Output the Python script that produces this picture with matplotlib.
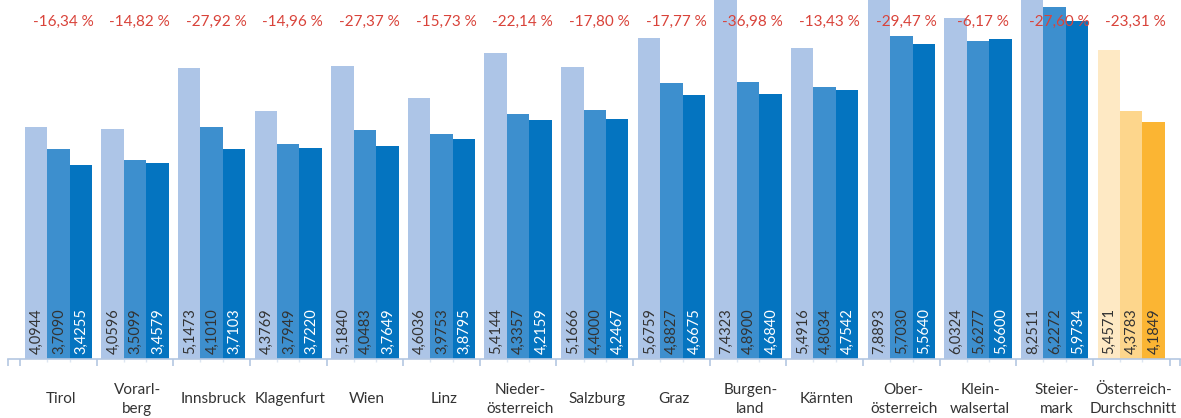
import numpy as np
import matplotlib
matplotlib.use("Agg")
import matplotlib.pyplot as plt
import matplotlib.transforms as mtransforms

plt.rcParams['font.family'] = ['Lato', 'DejaVu Sans']

categories = ["Tirol", "Vorarl-\nberg", "Innsbruck", "Klagenfurt", "Wien", "Linz",
              "Nieder-\nösterreich", "Salzburg", "Graz", "Burgen-\nland", "Kärnten",
              "Ober-\nösterreich", "Klein-\nwalsertal", "Steier-\nmark",
              "Österreich-\nDurchschnitt"]
vals_1 = [4.0944, 4.0596, 5.1473, 4.3769, 5.1840, 4.6036, 5.4144, 5.1666, 5.6759,
          7.4323, 5.4916, 7.8893, 6.0324, 8.2511, 5.4571]
vals_2 = [3.7090, 3.5099, 4.1010, 3.7949, 4.0483, 3.9753, 4.3357, 4.4000, 4.8827,
          4.8900, 4.8034, 5.7030, 5.6277, 6.2272, 4.3783]
vals_3 = [3.4255, 3.4579, 3.7103, 3.7220, 3.7649, 3.8795, 4.2159, 4.2467, 4.6675,
          4.6840, 4.7542, 5.5640, 5.6600, 5.9734, 4.1849]
pct = [-16.34, -14.82, -27.92, -14.96, -27.37, -15.73, -22.14, -17.80, -17.77,
       -36.98, -13.43, -29.47, -6.17, -27.60, -23.31]

blues = ["#adc5e7", "#3d8fce", "#0474c0"]
oranges = ["#fee9c4", "#fdd68c", "#fbb533"]
text_cols = ["#333333", "#333333", "#ffffff"]
axis_col = "#b4c7e2"


def fmt(v, nd):
    return ("{:.%df}" % nd).format(v).replace(".", ",")


fig = plt.figure(figsize=(11.81, 4.18), dpi=100)
ax = fig.add_axes([8 / 1181, 0.1423, 1172 / 1181, 0.8577])

n = len(categories)
x = np.arange(n)
w = 0.293
series = [vals_1, vals_2, vals_3]
for j, vals in enumerate(series):
    cols = [blues[j]] * (n - 1) + [oranges[j]]
    pos = x + (j - 1) * w
    ax.bar(pos, vals, width=w, color=cols, linewidth=0, zorder=2)
    for i, (p, v) in enumerate(zip(pos, vals)):
        tc = text_cols[j] if i < n - 1 else "#333333"
        ax.annotate(fmt(v, 4), xy=(p, 0), xytext=(0.5, 3), textcoords="offset points",
                    rotation=90, ha="center", va="bottom", fontsize=10.5, color=tc,
                    zorder=3)

trans = mtransforms.blended_transform_factory(ax.transData, ax.transAxes)
for i in range(n):
    ax.text(x[i] + 0.06, 0.9386, fmt(pct[i], 2) + " %", transform=trans,
            ha="center", va="center", fontsize=11, color="#d9433a", zorder=4)
    ax.text(x[i] + 0.03, -0.113, categories[i], transform=trans, ha="center",
            va="center", fontsize=11, color="#333333", linespacing=1.45,
            clip_on=False)

ax.set_xlim(-0.657, 14.636)
ax.set_ylim(0, 6.345)
for s in ["top", "right", "left"]:
    ax.spines[s].set_visible(False)
ax.spines["bottom"].set_color(axis_col)
ax.spines["bottom"].set_linewidth(1.2)
ax.set_yticks([])
major = [-0.657] + list(np.arange(n + 1) - 0.5) + [14.636]
ax.set_xticks(major)
ax.set_xticklabels([])
ax.set_xticks(list(x - w / 2) + list(x + w / 2), minor=True)
ax.tick_params(axis="x", which="major", length=5, color=axis_col, width=1.2)
ax.tick_params(axis="x", which="minor", length=2.5, color="#dde6f2", width=1)

fig.savefig("out.png", dpi=100)
